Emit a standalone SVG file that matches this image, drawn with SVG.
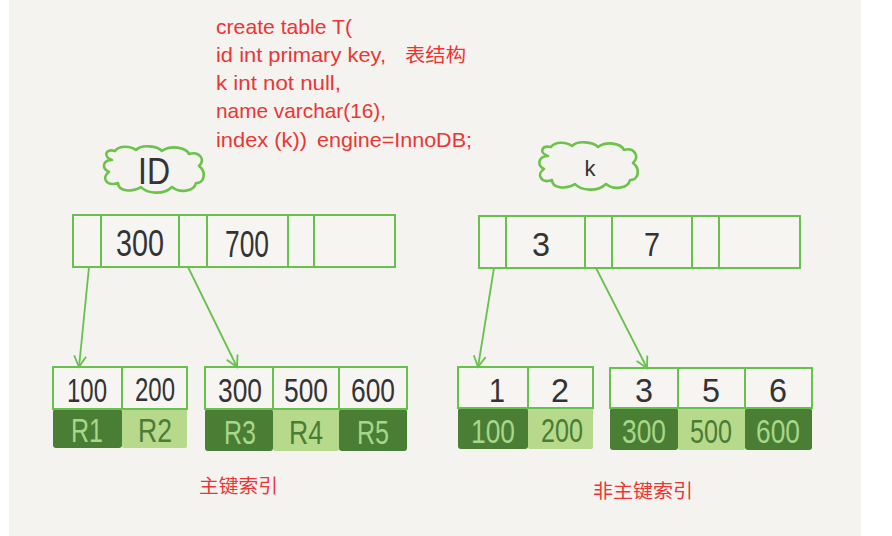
<svg xmlns="http://www.w3.org/2000/svg" width="892" height="536" viewBox="0 0 892 536">
<defs>
<style>
.box{fill:#f6f5f2;stroke:#66c24c;stroke-width:2}
.div{stroke:#66c24c;stroke-width:2}
.conn{stroke:#66c24c;stroke-width:1.8;fill:none}
.cloud{fill:none;stroke:#6cc24a;stroke-width:2.6;stroke-linejoin:round}
.num{font-family:"Liberation Sans Narrow","Liberation Sans",sans-serif;fill:#333;text-anchor:middle}
.dark{fill:#4b7e35}
.light{fill:#b6d98c}
.tdark{font-family:"Liberation Sans Narrow","Liberation Sans",sans-serif;fill:#a7d788;text-anchor:middle;font-size:34px}
.tlight{font-family:"Liberation Sans Narrow","Liberation Sans",sans-serif;fill:#4a7c34;text-anchor:middle;font-size:34px}
.red{font-family:"Liberation Sans","Noto Sans CJK SC",sans-serif;fill:#ec3535;font-size:21px}
.redcjk{font-family:"Noto Sans CJK SC",sans-serif;fill:#ec3535;font-size:19px}
</style>
<marker id="arr" markerWidth="14" markerHeight="14" refX="12" refY="7" orient="auto" markerUnits="userSpaceOnUse">
<path d="M1,1 L12,7 L1,13" fill="none" stroke="#66c24c" stroke-width="1.8"/>
</marker>
</defs>
<rect x="0" y="0" width="892" height="536" fill="#ffffff"/>
<rect x="9" y="0" width="852" height="536" fill="#f4f3f0"/>

<g id="sql">
<text class="red" x="216" y="34" textLength="136" lengthAdjust="spacingAndGlyphs">create table T(</text>
<text class="red" x="216" y="62" textLength="170" lengthAdjust="spacingAndGlyphs">id int primary key,</text>
<text class="redcjk" x="405" y="62" font-size="20" textLength="61" lengthAdjust="spacingAndGlyphs">表结构</text>
<text class="red" x="216" y="90" textLength="125" lengthAdjust="spacingAndGlyphs">k int not null,</text>
<text class="red" x="216" y="118" textLength="170" lengthAdjust="spacingAndGlyphs">name varchar(16),</text>
<text class="red" x="216" y="147" textLength="91" lengthAdjust="spacingAndGlyphs">index (k))</text>
<text class="red" x="317" y="147" textLength="155" lengthAdjust="spacingAndGlyphs">engine=InnoDB;</text>
</g>

<g id="cloud-id">
<path class="cloud" d="M112,160 C103,157 105,148 115,151 C119,145 131,146 136,150 C142,144 157,146 162,151 C170,145 186,147 189,154 C199,151 206,159 199,166 C207,172 204,184 196,183 C194,192 179,193 172,187 C164,195 147,194 141,187 C132,193 118,191 118,183 C106,187 101,177 109,172 C101,168 103,160 112,160 Z"/>
<text class="num" x="154" y="184" font-size="36" textLength="32" lengthAdjust="spacingAndGlyphs">ID</text>
</g>

<g id="cloud-k">
<path class="cloud" d="M548,156 C539,153 541,145 551,147 C555,141 567,142 572,146 C578,140 593,142 598,147 C606,141 621,143 624,150 C634,147 640,156 633,163 C641,169 638,181 630,180 C628,189 613,190 606,184 C598,192 581,191 575,184 C566,190 552,188 552,180 C541,184 536,174 544,169 C536,165 539,156 548,156 Z"/>
<text class="num" x="590" y="176" font-size="22">k</text>
</g>

<g id="id-root">
<rect class="box" x="73" y="215" width="322" height="52"/>
<line class="div" x1="101" y1="215" x2="101" y2="267"/>
<line class="div" x1="179" y1="215" x2="179" y2="267"/>
<line class="div" x1="207" y1="215" x2="207" y2="267"/>
<line class="div" x1="288" y1="215" x2="288" y2="267"/>
<line class="div" x1="314" y1="215" x2="314" y2="267"/>
<text class="num" x="140" y="256" font-size="36" textLength="48" lengthAdjust="spacingAndGlyphs">300</text>
<text class="num" x="247" y="257" font-size="36" textLength="44" lengthAdjust="spacingAndGlyphs">700</text>
</g>

<g id="k-root">
<rect class="box" x="479" y="216" width="321" height="52"/>
<line class="div" x1="506" y1="216" x2="506" y2="268"/>
<line class="div" x1="585" y1="216" x2="585" y2="268"/>
<line class="div" x1="612" y1="216" x2="612" y2="268"/>
<line class="div" x1="692" y1="216" x2="692" y2="268"/>
<line class="div" x1="719" y1="216" x2="719" y2="268"/>
<text class="num" x="541" y="256" font-size="34" textLength="18" lengthAdjust="spacingAndGlyphs">3</text>
<text class="num" x="652" y="256" font-size="34" textLength="16" lengthAdjust="spacingAndGlyphs">7</text>
</g>

<g id="id-leaf1">
<rect class="dark" x="53" y="409" width="69" height="39" rx="3"/>
<rect class="light" x="122" y="409" width="65" height="39" rx="2"/>
<rect class="box" x="53" y="367" width="134" height="42"/>
<line class="div" x1="122" y1="367" x2="122" y2="409"/>
<text class="num" x="87" y="402" font-size="34" textLength="40" lengthAdjust="spacingAndGlyphs">100</text>
<text class="num" x="155" y="401" font-size="34" textLength="40" lengthAdjust="spacingAndGlyphs">200</text>
<text class="tdark" x="87" y="442" textLength="32" lengthAdjust="spacingAndGlyphs">R1</text>
<text class="tlight" x="155" y="442" textLength="34" lengthAdjust="spacingAndGlyphs">R2</text>
</g>

<g id="id-leaf2">
<rect class="dark" x="205" y="409" width="68" height="42" rx="3"/>
<rect class="light" x="273" y="409" width="66" height="42" rx="2"/>
<rect class="dark" x="339" y="409" width="68" height="42" rx="3"/>
<rect class="box" x="205" y="367" width="202" height="42"/>
<line class="div" x1="273" y1="367" x2="273" y2="409"/>
<line class="div" x1="339" y1="367" x2="339" y2="409"/>
<text class="num" x="240" y="402" font-size="34" textLength="44" lengthAdjust="spacingAndGlyphs">300</text>
<text class="num" x="306" y="402" font-size="34" textLength="44" lengthAdjust="spacingAndGlyphs">500</text>
<text class="num" x="373" y="402" font-size="34" textLength="44" lengthAdjust="spacingAndGlyphs">600</text>
<text class="tdark" x="240" y="444" textLength="32" lengthAdjust="spacingAndGlyphs">R3</text>
<text class="tlight" x="306" y="444" textLength="34" lengthAdjust="spacingAndGlyphs">R4</text>
<text class="tdark" x="373" y="444" textLength="32" lengthAdjust="spacingAndGlyphs">R5</text>
</g>

<g id="k-leaf1">
<rect class="dark" x="458" y="408" width="70" height="41" rx="3"/>
<rect class="light" x="528" y="408" width="65" height="41" rx="2"/>
<rect class="box" x="458" y="367" width="135" height="41"/>
<line class="div" x1="528" y1="367" x2="528" y2="408"/>
<text class="num" x="497" y="402" font-size="34" textLength="16" lengthAdjust="spacingAndGlyphs">1</text>
<text class="num" x="560" y="402" font-size="34" textLength="18" lengthAdjust="spacingAndGlyphs">2</text>
<text class="tdark" x="493" y="443" textLength="44" lengthAdjust="spacingAndGlyphs">100</text>
<text class="tlight" x="562" y="442" textLength="42" lengthAdjust="spacingAndGlyphs">200</text>
</g>

<g id="k-leaf2">
<rect class="dark" x="610" y="408" width="68" height="42" rx="3"/>
<rect class="light" x="678" y="408" width="67" height="42" rx="2"/>
<rect class="dark" x="745" y="408" width="67" height="42" rx="3"/>
<rect class="box" x="610" y="368" width="202" height="40"/>
<line class="div" x1="678" y1="368" x2="678" y2="408"/>
<line class="div" x1="745" y1="368" x2="745" y2="408"/>
<text class="num" x="644" y="402" font-size="34" textLength="18" lengthAdjust="spacingAndGlyphs">3</text>
<text class="num" x="711" y="402" font-size="34" textLength="18" lengthAdjust="spacingAndGlyphs">5</text>
<text class="num" x="778" y="402" font-size="34" textLength="18" lengthAdjust="spacingAndGlyphs">6</text>
<text class="tdark" x="644" y="443" textLength="44" lengthAdjust="spacingAndGlyphs">300</text>
<text class="tlight" x="711" y="443" textLength="42" lengthAdjust="spacingAndGlyphs">500</text>
<text class="tdark" x="778" y="443" textLength="44" lengthAdjust="spacingAndGlyphs">600</text>
</g>

<g id="connectors">
<line class="conn" x1="89" y1="267" x2="79" y2="367" marker-end="url(#arr)"/>
<line class="conn" x1="188" y1="267" x2="237" y2="367" marker-end="url(#arr)"/>
<line class="conn" x1="494" y1="268" x2="478" y2="367" marker-end="url(#arr)"/>
<line class="conn" x1="596" y1="268" x2="647" y2="368" marker-end="url(#arr)"/>
</g>

<g id="labels">
<text class="redcjk" x="199" y="493" textLength="79" lengthAdjust="spacingAndGlyphs">主键索引</text>
<text class="redcjk" x="593" y="498" textLength="100" lengthAdjust="spacingAndGlyphs">非主键索引</text>
</g>
</svg>
